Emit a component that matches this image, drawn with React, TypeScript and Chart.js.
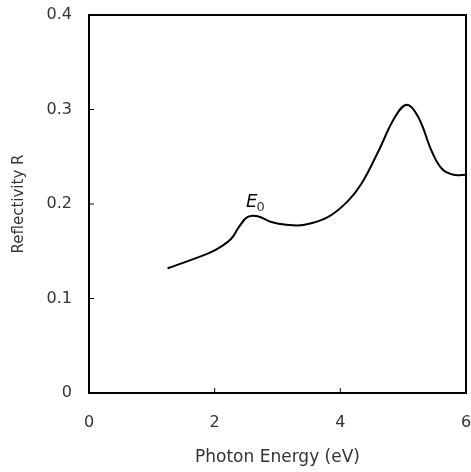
import React, { useEffect, useRef } from "react";
import { Chart, registerables } from "chart.js";

Chart.register(...registerables);

const energies = [1.25, 1.67, 2.0, 2.26, 2.39, 2.52, 2.68, 2.9, 3.14, 3.43, 3.8, 4.12, 4.34, 4.6, 4.87, 5.06, 5.24, 5.46, 5.62, 5.8, 6.0];
const reflectivity = [0.132, 0.142, 0.151, 0.163, 0.176, 0.186, 0.187, 0.181, 0.178, 0.178, 0.186, 0.203, 0.222, 0.255, 0.292, 0.305, 0.292, 0.255, 0.237, 0.231, 0.231];
const xTicks = [0, 2, 4, 6];
const yTicks = [0, 0.1, 0.2, 0.3, 0.4];
const annotation = { x: 2.68, y: 0.2, label: "E", sub: "0" };

const FONT = "DejaVu Sans";

const framePlugin = {
  id: "frame",
  afterDatasetsDraw(chart: any) {
    const { ctx, chartArea, scales } = chart;
    const { left, right, top, bottom } = chartArea;
    ctx.save();
    ctx.strokeStyle = "#000";
    ctx.lineWidth = 2;
    ctx.strokeRect(left, top, right - left, bottom - top);
    ctx.lineWidth = 1;
    ctx.beginPath();
    for (const v of xTicks) {
      const px = scales.x.getPixelForValue(v);
      if (px > left + 2 && px < right - 2) {
        ctx.moveTo(px, bottom);
        ctx.lineTo(px, bottom - 5);
      }
    }
    for (const v of yTicks) {
      const py = scales.y.getPixelForValue(v);
      if (py > top + 2 && py < bottom - 2) {
        ctx.moveTo(left, py);
        ctx.lineTo(left + 5, py);
      }
    }
    ctx.stroke();
    const ax = scales.x.getPixelForValue(annotation.x);
    const ay = scales.y.getPixelForValue(annotation.y);
    ctx.fillStyle = "#000";
    ctx.textBaseline = "alphabetic";
    ctx.textAlign = "right";
    ctx.font = `italic 18px ${FONT}`;
    ctx.fillText(annotation.label, ax, ay + 3);
    ctx.textAlign = "left";
    ctx.font = `13px ${FONT}`;
    ctx.fillStyle = "#333";
    ctx.fillText(annotation.sub, ax - 1, ay + 7);
    ctx.restore();
  },
};

export default function App() {
  const ref = useRef<HTMLCanvasElement>(null);
  useEffect(() => {
    const canvas = ref.current!;
    const chart = new Chart(canvas, {
      type: "line",
      data: {
        datasets: [
          {
            data: energies.map((x, i) => ({ x, y: reflectivity[i] })),
            borderColor: "#000",
            borderWidth: 2,
            pointRadius: 0,
            tension: 0.4,
            fill: false,
          },
        ],
      },
      options: {
        animation: false,
        responsive: true,
        maintainAspectRatio: false,
        layout: { padding: { top: 15, right: 5, left: 0, bottom: 0 } },
        plugins: { legend: { display: false }, tooltip: { enabled: false } },
        scales: {
          x: {
            type: "linear",
            min: 0,
            max: 6,
            afterBuildTicks: (s: any) => {
              s.ticks = xTicks.map((v) => ({ value: v }));
            },
            afterFit: (s: any) => {
              s.height = 79;
              s.paddingLeft = 0;
              s.paddingRight = 0;
            },
            grid: { display: false, drawTicks: false },
            border: { display: false },
            ticks: { color: "#333", font: { family: FONT, size: 16 }, padding: 20 },
            title: {
              display: true,
              text: "Photon Energy (eV)",
              color: "#333",
              font: { family: FONT, size: 17 },
              padding: { top: 2 },
            },
          },
          y: {
            type: "linear",
            min: 0,
            max: 0.4,
            afterBuildTicks: (s: any) => {
              s.ticks = yTicks.map((v) => ({ value: v }));
            },
            afterFit: (s: any) => {
              s.width = 89;
              s.paddingTop = 0;
              s.paddingBottom = 0;
            },
            grid: { display: false, drawTicks: false },
            border: { display: false },
            ticks: {
              color: "#333",
              font: { family: FONT, size: 16 },
              padding: 17,
              callback: (v: any) => (v === 0 ? "0" : Number(v).toFixed(1)),
            },
            title: {
              display: true,
              text: "Reflectivity R",
              color: "#333",
              font: { family: FONT, size: 15 },
              padding: { top: 10, bottom: 0 },
            },
          },
        },
      },
      plugins: [framePlugin],
    } as any);
    return () => chart.destroy();
  }, []);
  return (
    <div style={{ position: "fixed", left: 0, top: 0, width: 471, height: 472, background: "#fff" }}>
      <canvas ref={ref} />
    </div>
  );
}
